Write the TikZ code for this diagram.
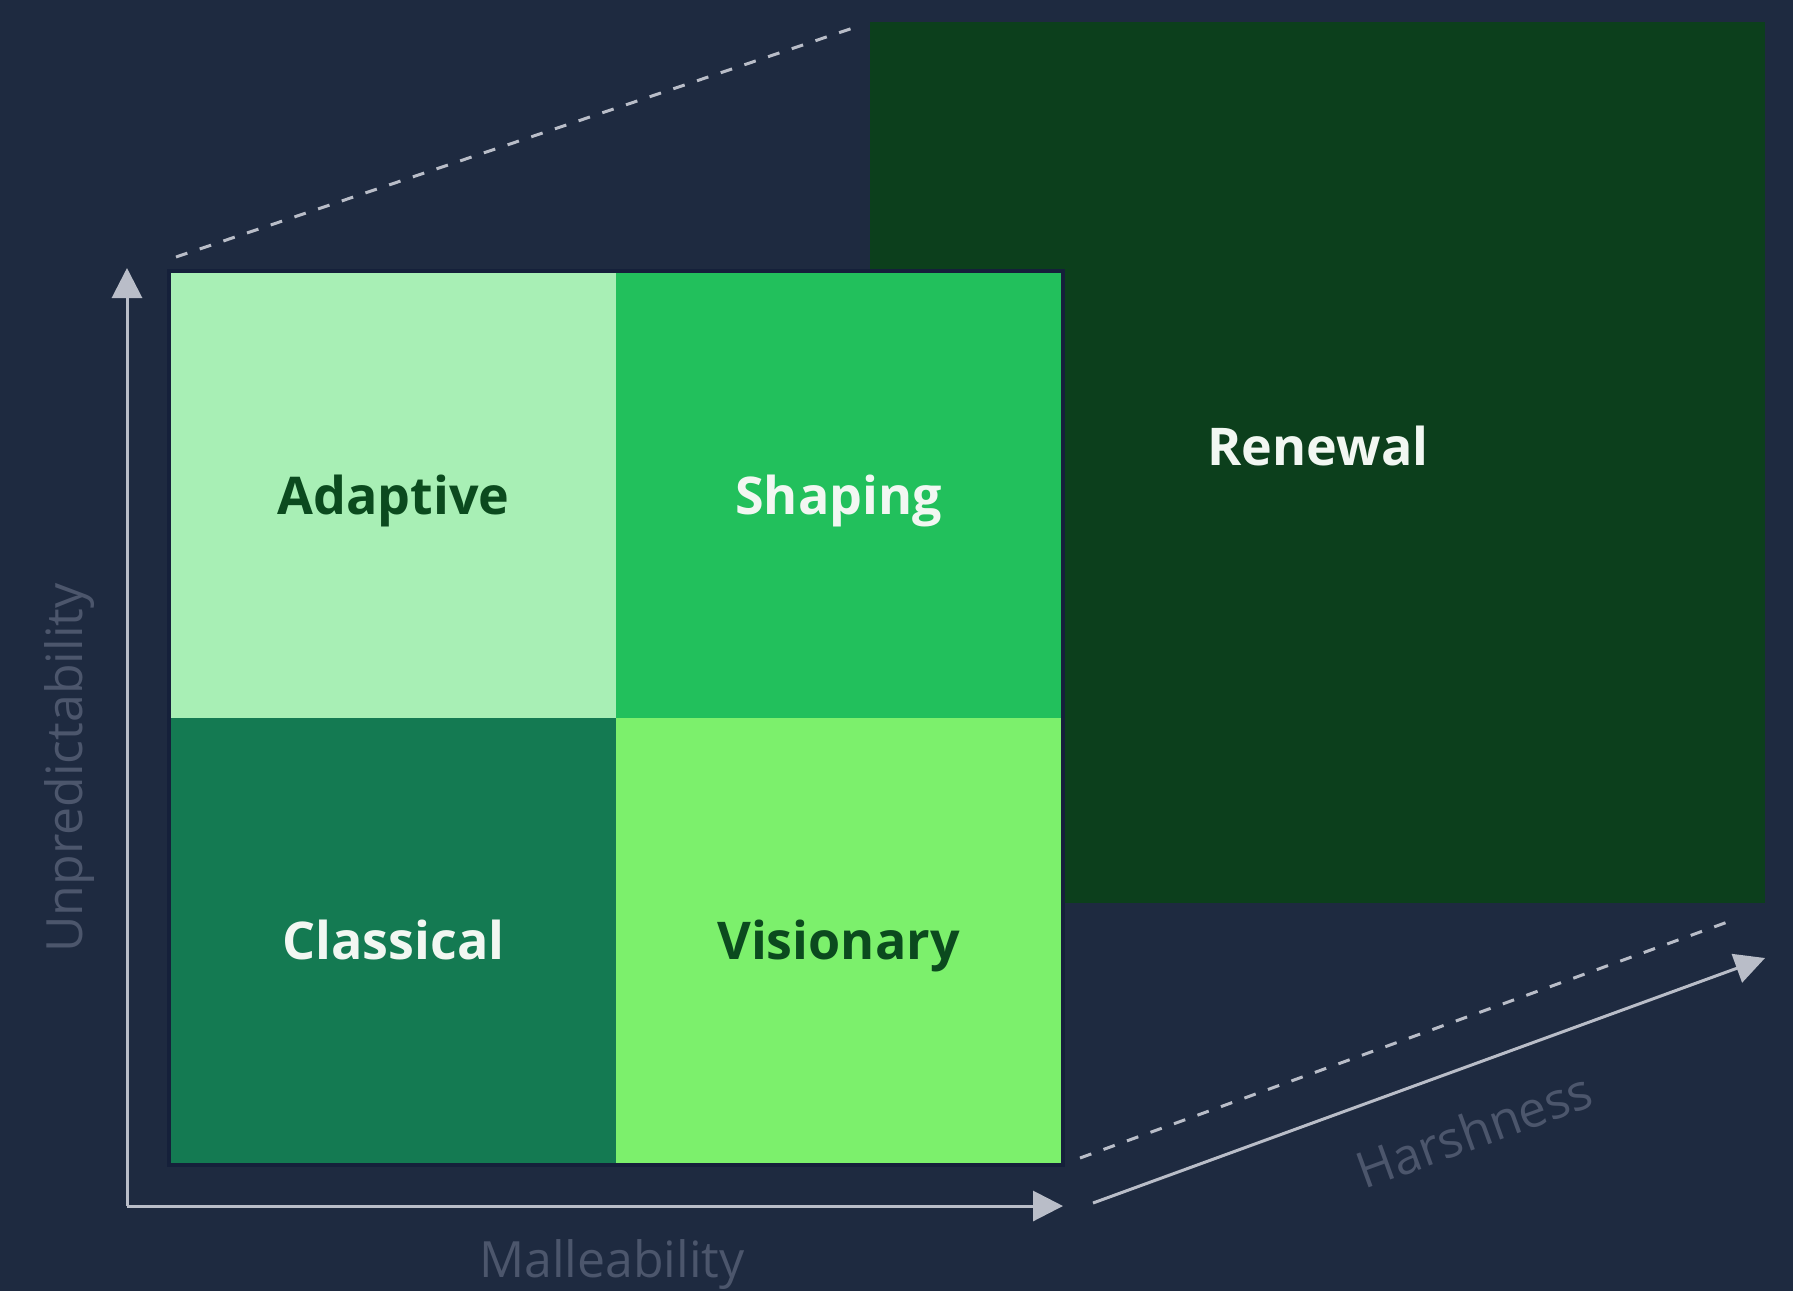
\documentclass[tikz,border=0pt]{standalone}
\usepackage{fontspec}
\setmainfont{Open Sans}
\usetikzlibrary{arrows.meta}

\definecolor{bg}{HTML}{1E2A40}
\definecolor{adaptive}{HTML}{A8EFB5}
\definecolor{shaping}{HTML}{22C05C}
\definecolor{classical}{HTML}{147A52}
\definecolor{visionary}{HTML}{7CF06C}
\definecolor{renewal}{HTML}{0C3F1C}
\definecolor{darktext}{HTML}{0B4A1E}
\definecolor{lighttext}{HTML}{F2F7F2}
\definecolor{axisline}{HTML}{B9BDC8}
\definecolor{axislabel}{HTML}{4C566C}
\definecolor{edge}{HTML}{15203A}

\begin{document}
\begin{tikzpicture}[x=1pt, y=-1pt,
  cell/.style={anchor=north west, minimum width=445pt, minimum height=445pt,
    inner sep=0pt, outer sep=0pt, text height=38pt, text depth=0pt,
    font=\fontsize{52}{60}\selectfont\bfseries},
  axis/.style={draw=axisline, line width=3pt,
    -{Triangle[length=30pt, width=30pt]}},
  guide/.style={draw=axisline, line width=3pt, dash pattern=on 12pt off 13pt},
  axislbl/.style={text=axislabel, font=\fontsize{50}{58}\selectfont}]

  % background and page frame
  \fill[bg] (0,0) rectangle (1793,1291);
  \useasboundingbox (0,0) rectangle (1793,1291);

  % back face: renewal
  \node[anchor=north west, minimum width=895pt, minimum height=881pt,
        inner sep=0pt, outer sep=0pt, fill=renewal] (renew) at (870,22) {};
  \node[text=lighttext, font=\fontsize{52}{60}\selectfont\bfseries]
        (renewlbl) at (1318,446) {Renewal};

  % guide lines joining the front face to the back face
  \coordinate (gtl) at (176,257);
  \coordinate (rtl) at (853,28);
  \coordinate (gbr) at (1080,1158);
  \coordinate (rbr) at (1733,920);
  \draw[guide] (gtl) -- (rtl);
  \draw[guide] (gbr) -- (rbr);

  % front face: 2x2 grid
  \fill[edge] (167,269) rectangle (1065,1167);
  \node[cell, fill=adaptive,  text=darktext]  (adaptive)  at (171,273) {Adaptive};
  \node[cell, fill=shaping,   text=lighttext] (shaping)   at (616,273) {Shaping};
  \node[cell, fill=classical, text=lighttext] (classical) at (171,718) {Classical};
  \node[cell, fill=visionary, text=darktext]  (visionary) at (616,718) {Visionary};

  % axes
  \coordinate (origin) at (127,1206);
  \coordinate (ytip) at (127,268);
  \coordinate (xtip) at (1063,1206);
  \coordinate (hstart) at (1093,1203);
  \coordinate (htip) at (1765,958);
  \draw[axis] (origin) -- (ytip);
  \draw[axis] (origin) -- (xtip);
  \draw[axis] (hstart) -- (htip);

  % axis labels
  \node[axislbl, rotate=90] (ulbl) at (70,768) {Unpredictability};
  \node[axislbl] (mlbl) at (612,1264) {Malleability};
  \node[axislbl, rotate=20] (hlbl) at (1474,1130) {Harshness};
\end{tikzpicture}
\end{document}
